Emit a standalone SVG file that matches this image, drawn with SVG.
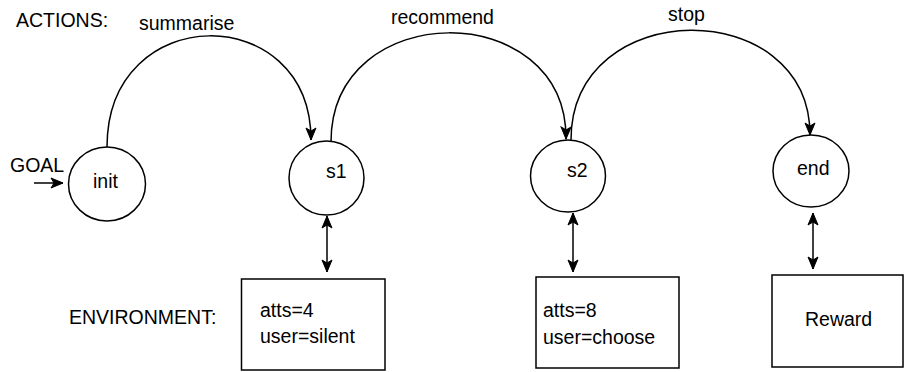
<svg xmlns="http://www.w3.org/2000/svg" width="904" height="372" viewBox="0 0 904 372">
<style>
text{font-family:"Liberation Sans",Arial,Helvetica,sans-serif;font-size:19.5px;fill:#000}
.shape{fill:#fff;stroke:#000;stroke-width:1.5}
.edge{fill:none;stroke:#000;stroke-width:1.5}
</style>
<defs>
<marker id="arr" markerUnits="userSpaceOnUse" markerWidth="15" markerHeight="13" viewBox="-13 -6.5 15 13" refX="0" refY="0" orient="auto-start-reverse">
<path d="M0,0 L-12,-5 L-9,0 L-12,5 Z" fill="#000" stroke="#000" stroke-width="1"/>
</marker>
</defs>
<rect width="904" height="372" fill="#fff"/>
<g id="labels">
<text x="16" y="27">ACTIONS:</text>
<text x="69" y="324">ENVIRONMENT:</text>
<text x="10" y="172">GOAL</text>
</g>
<g id="connectors">
<path class="edge" d="M34,183 L63,183" marker-end="url(#arr)"/>
<path class="edge" d="M107,147 C107,0 311,0 311,140" marker-end="url(#arr)"/>
<text x="139" y="30">summarise</text>
<path class="edge" d="M331,142 C331,-3 567,-3 566,139" marker-end="url(#arr)"/>
<text x="391" y="24">recommend</text>
<path class="edge" d="M571,140 C571,-5.5 810,-5.5 810,135" marker-end="url(#arr)"/>
<text x="668" y="21">stop</text>
<path class="edge" d="M327,216 L327,272" marker-start="url(#arr)" marker-end="url(#arr)"/>
<path class="edge" d="M573,213 L573,272" marker-start="url(#arr)" marker-end="url(#arr)"/>
<path class="edge" d="M813,213 L813,269" marker-start="url(#arr)" marker-end="url(#arr)"/>
</g>
<g id="init">
<ellipse class="shape" cx="107" cy="184" rx="38.5" ry="37"/>
<text x="93" y="188">init</text>
</g>
<g id="s1">
<ellipse class="shape" cx="326.5" cy="178" rx="37.5" ry="37"/>
<text x="326" y="178">s1</text>
</g>
<g id="s2">
<ellipse class="shape" cx="568" cy="176" rx="37.5" ry="36"/>
<text x="567" y="177">s2</text>
</g>
<g id="end">
<ellipse class="shape" cx="811" cy="171" rx="38" ry="36"/>
<text x="797" y="175">end</text>
</g>
<g id="env1">
<rect class="shape" x="241.5" y="279" width="143.5" height="91"/>
<text x="260" y="317">atts=4</text>
<text x="260" y="343">user=silent</text>
</g>
<g id="env2">
<rect class="shape" x="536" y="277" width="143" height="91"/>
<text x="543" y="317">atts=8</text>
<text x="543" y="344">user=choose</text>
</g>
<g id="reward">
<rect class="shape" x="772" y="275" width="131" height="92"/>
<text x="805" y="326">Reward</text>
</g>
</svg>
